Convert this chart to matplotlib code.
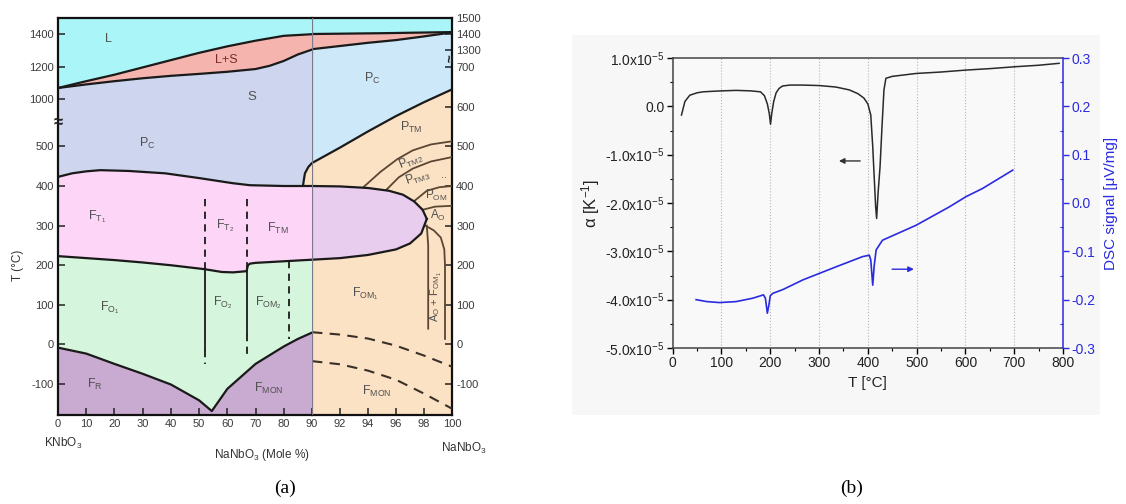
import numpy as np
import matplotlib
matplotlib.use('Agg')
import matplotlib.pyplot as plt
from matplotlib.patches import Rectangle

plt.rcParams['font.family'] = ['Liberation Sans', 'DejaVu Sans']
plt.rcParams['mathtext.fontset'] = 'custom'
plt.rcParams['mathtext.rm'] = 'Liberation Sans'
plt.rcParams['mathtext.it'] = 'Liberation Sans:italic'
plt.rcParams['mathtext.bf'] = 'Liberation Sans:bold'
plt.rcParams['mathtext.default'] = 'regular'

# ------------------------- data: panel (a) phase diagram -------------------------
liq_m = [0, 10, 20, 30, 40, 50, 60, 70, 80, 90]
liq_T = [1068, 1110, 1150, 1195, 1240, 1285, 1325, 1360, 1390, 1400]
sol_m = [0, 10, 20, 30, 40, 50, 60, 70, 75, 80, 85, 90]
sol_T = [1068, 1090, 1110, 1128, 1143, 1155, 1168, 1185, 1205, 1235, 1275, 1305]
liq_r_m = [90, 95, 100]
liq_r_T = [1400, 1405, 1412]
sol_r_m = [90, 92, 94, 96, 98, 100]
sol_r_T = [1305, 1325, 1345, 1362, 1385, 1410]
curie_m = [0, 5, 10, 15, 25, 38, 50, 62, 68, 80, 90]
curie_T = [423, 432, 437, 440, 438, 432, 420, 407, 402, 400, 400]
ptm_l_m = [86.8, 87.1, 87.5, 88.7, 90]
ptm_l_T = [400, 415, 432, 448, 458]
ptm_r_m = [90, 92, 94, 96, 98, 100]
ptm_r_T = [458, 497, 538, 577, 612, 644]
ftlow_m = [0, 10, 20, 30, 40, 52, 58, 62, 66.8, 67.3, 68, 70, 80, 90]
ftlow_T = [223, 218, 213, 207, 200, 190, 183, 182, 185, 200, 204, 206, 210, 214]
fr_m = [0, 10, 20, 30, 40, 50, 54.5, 60, 70, 80, 85, 90]
fr_T = [-8, -23, -49, -74, -101, -141, -168, -112, -49, -5, 14, 30]
ell_up_m = [90, 92, 94, 95.5, 96.5, 97.3, 97.9, 98.2]
ell_up_T = [400, 399, 395, 388, 378, 361, 340, 317]
ell_lo_m = [90, 92, 94, 96, 97, 97.8, 98.2]
ell_lo_T = [214, 218, 226, 240, 255, 280, 317]
arc1_m = [93.7, 94.9, 96.1, 97.2, 98.5, 100]
arc1_T = [398, 436, 468, 490, 505, 513]
arc2_m = [95.3, 96.2, 97.2, 98.5, 100]
arc2_T = [390, 422, 444, 462, 473]
arc3_m = [97.3, 98.2, 99.1, 100]
arc3_T = [362, 388, 397, 400]
arc4_m = [97.9, 98.8, 100]
arc4_T = [340, 348, 350]
lineA_m = [98.2, 98.3, 98.3]
lineA_T = [300, 250, 40]
lineB_m = [98.1, 98.7, 99.2, 99.45, 99.5, 99.5]
lineB_T = [300, 288, 270, 240, 200, 14]
dash1_m = [90, 92, 94, 96, 98, 100]
dash1_T = [31, 25, 15, -3, -28, -56]
dash2_m = [90, 92, 94, 96, 98, 100]
dash2_T = [-42, -50, -66, -89, -124, -162]
vl_m = [52, 67, 82]
vl_dash_top = [(368, 190), (368, 203), (210, 14)]
vl_solid = [(190, -15), (200, 27), None]
vl_dash_bot = [(-15, -49), (27, -36), None]

left_yticks = [-100, 0, 100, 200, 300, 400, 500, 1000, 1200, 1400]
right_yticks = [-100, 0, 100, 200, 300, 400, 500, 600, 700, 1300, 1400, 1500]
left_xticks = [0, 10, 20, 30, 40, 50, 60, 70, 80, 90]
right_xticks = [92, 94, 96, 98, 100]

# ------------------------- data: panel (b) -------------------------
alpha_T = [18, 25, 35, 50, 62, 80, 100, 130, 160, 180, 188, 194, 198, 200.5, 203, 207, 212,
           218, 225, 240, 266, 300, 334, 362, 380, 392, 400, 406, 410, 413, 416, 418, 421,
           425, 429, 433, 437, 450, 499, 550, 601, 650, 703, 750, 792]
alpha_v = [-0.18, 0.10, 0.23, 0.28, 0.30, 0.31, 0.32, 0.33, 0.32, 0.30, 0.22, 0.05, -0.15,
           -0.37, -0.15, 0.10, 0.28, 0.37, 0.42, 0.44, 0.44, 0.43, 0.40, 0.34, 0.26, 0.17,
           0.05, -0.18, -0.83, -1.46, -2.08, -2.32, -1.79, -1.25, -0.42, 0.34, 0.58, 0.62,
           0.68, 0.71, 0.75, 0.78, 0.82, 0.85, 0.89]   # x 1e-5 K^-1
dsc_T = [48, 70, 96, 130, 164, 180, 186, 190, 194, 197, 200, 205, 226, 267, 335, 389, 403,
         406, 410, 413, 417, 430, 499, 567, 601, 635, 697]
dsc_v = [-0.200, -0.204, -0.206, -0.204, -0.197, -0.192, -0.190, -0.197, -0.228, -0.212,
         -0.192, -0.187, -0.179, -0.159, -0.132, -0.111, -0.108, -0.118, -0.170, -0.130,
         -0.097, -0.077, -0.046, -0.008, 0.013, 0.030, 0.068]
b_xticks = [0, 100, 200, 300, 400, 500, 600, 700, 800]
b_left_ticks = [-5, -4, -3, -2, -1, 0, 1]
b_right_ticks = [-0.3, -0.2, -0.1, 0.0, 0.1, 0.2, 0.3]

# ------------------------- figure -------------------------
W, H = 1126, 504
fig = plt.figure(figsize=(W / 100, H / 100), dpi=100)


def fx(px):
    return px / W


def fy(py):
    return 1 - py / H


def piecewise(Tp, up):
    Tp = np.asarray(Tp, float)
    up = np.asarray(up, float)
    return (lambda T: np.interp(T, Tp, up), lambda u: np.interp(u, up, Tp))


left_scale = piecewise([-1178, -178, 400, 500, 1000, 1500, 2500],
                       [-396, 0, 229, 268.6, 316, 397, 559])
right_scale = piecewise([-1178, -178, 500, 600, 700, 1300, 1500, 2500],
                        [-396, 0, 268.6, 308, 348, 365, 397, 557])

C_L = '#aaf5f8'
C_LS = '#f5b5ae'
C_S = '#cdd6ee'
C_PC = '#cde8f8'
C_FT = '#fcd5f7'
C_ELL = '#e9cdee'
C_FO = '#d5f5dc'
C_FR = '#c9aad0'
C_OR = '#fce2c4'
LC = '#1a1a1a'
BR = '#5a4632'
TXT = '#505050'

# light background panel behind (b)
fig.patches.append(Rectangle((fx(572), fy(415)), fx(1100 - 572), (415 - 35) / H,
                             transform=fig.transFigure, facecolor='#f7f7f7',
                             edgecolor='none', zorder=-10))

ymin, ymax = -178, 1500
bot, hgt = (H - 415) / H, 397 / H
axL = fig.add_axes([fx(58), bot, fx(254), hgt])
axR = fig.add_axes([fx(312), bot, fx(140), hgt])
axL.set_yscale('function', functions=left_scale)
axR.set_yscale('function', functions=right_scale)
axL.set_xlim(0, 90)
axR.set_xlim(90, 100)
for a in (axL, axR):
    a.set_ylim(ymin, ymax)


def poly(ax, xs, ys, color, z=1):
    ax.fill(xs, ys, color=color, lw=0, zorder=z)


# left part fills
poly(axL, list(liq_m) + [90, 0], list(liq_T) + [ymax, ymax], C_L)
poly(axL, list(liq_m) + sol_m[::-1], list(liq_T) + sol_T[::-1], C_LS)
poly(axL, list(sol_m) + curie_m[::-1], list(sol_T) + curie_T[::-1], C_S)
poly(axL, list(curie_m) + ftlow_m[::-1], list(curie_T) + ftlow_T[::-1], C_FT)
poly(axL, list(ftlow_m) + fr_m[::-1], list(ftlow_T) + fr_T[::-1], C_FO)
poly(axL, list(fr_m) + [90, 0], list(fr_T) + [ymin, ymin], C_FR)
poly(axL, list(ptm_l_m) + [90], list(ptm_l_T) + [400], C_OR, 2)

for xs, ys in [(liq_m, liq_T), (sol_m, sol_T), (curie_m, curie_T), (ptm_l_m, ptm_l_T),
               (ftlow_m, ftlow_T), (fr_m, fr_T)]:
    axL.plot(xs, ys, color=LC, lw=1.6, zorder=4, solid_capstyle='round')

for m, dt, so, db in zip(vl_m, vl_dash_top, vl_solid, vl_dash_bot):
    axL.plot([m, m], dt, color=LC, lw=1.3, ls=(0, (4, 3)), zorder=4)
    if so is not None:
        axL.plot([m, m], so, color=LC, lw=1.3, zorder=4)
    if db is not None:
        axL.plot([m, m], db, color=LC, lw=1.3, ls=(0, (4, 3)), zorder=4)

# right part fills
poly(axR, list(liq_r_m) + [100, 90], list(liq_r_T) + [ymax, ymax], C_L)
poly(axR, list(liq_r_m) + sol_r_m[::-1], list(liq_r_T) + sol_r_T[::-1], C_LS)
poly(axR, list(sol_r_m) + ptm_r_m[::-1], list(sol_r_T) + ptm_r_T[::-1], C_PC)
poly(axR, list(ptm_r_m) + [100, 90], list(ptm_r_T) + [ymin, ymin], C_OR)
poly(axR, list(ell_up_m) + ell_lo_m[::-1], list(ell_up_T) + ell_lo_T[::-1], C_ELL, 2)

for xs, ys in [(liq_r_m, liq_r_T), (sol_r_m, sol_r_T), (ptm_r_m, ptm_r_T),
               (ell_up_m, ell_up_T), (ell_lo_m, ell_lo_T)]:
    axR.plot(xs, ys, color=LC, lw=1.6, zorder=4)
for xs, ys in [(arc1_m, arc1_T), (arc2_m, arc2_T), (arc3_m, arc3_T), (arc4_m, arc4_T),
               (lineA_m, lineA_T), (lineB_m, lineB_T)]:
    axR.plot(xs, ys, color=BR, lw=1.3, zorder=3)
for xs, ys in [(dash1_m, dash1_T), (dash2_m, dash2_T)]:
    axR.plot(xs, ys, color='#3a302a', lw=1.5, ls=(0, (5, 3.5)), zorder=3)
axR.axvline(90, color='#7a7a8a', lw=0.9, zorder=5)

# spines and ticks
for a in (axL, axR):
    for s in a.spines.values():
        s.set_linewidth(1.6)
        s.set_color('#111111')
    a.tick_params(direction='in', length=5, width=1.1, labelsize=8, labelcolor='#3a3a3a',
                  color='#222222', pad=3)
axL.spines['right'].set_visible(False)
axR.spines['left'].set_visible(False)
axL.set_yticks(left_yticks)
axL.set_yticklabels([str(t) for t in left_yticks])
axL.set_xticks(left_xticks)
axL.set_xticklabels([str(t) for t in left_xticks])
axR.set_xticks(right_xticks)
axR.set_xticklabels([str(t) for t in right_xticks])
axR.yaxis.tick_right()
axR.set_yticks(right_yticks)
axR.set_yticklabels([str(t) for t in right_yticks])
axR.tick_params(axis='y', which='both', left=False, right=True)
axL.minorticks_off()
axR.minorticks_off()

# break marks
axL.text(0, 750, '≈', ha='center', va='center', fontsize=12, fontweight='bold', color='#222',
         zorder=6, clip_on=False)
axR.text(100, 1000, '≈', ha='center', va='center', fontsize=10, fontweight='bold', color='#222',
         rotation=90, zorder=6, clip_on=False)

# region labels
lab = dict(ha='center', va='center', color=TXT, zorder=6)
axL.text(17.7, 1370, 'L', fontsize=9, **lab)
axL.text(59.8, 1240, 'L+S', fontsize=9, ha='center', va='center', color='#7a2a2a', zorder=6)
axL.text(68.8, 1010, 'S', fontsize=9.5, **lab)
axL.text(31.5, 530, 'P$_C$', fontsize=9, **lab)
axL.text(13.7, 322, 'F$_{T_1}$', fontsize=9, **lab)
axL.text(59.2, 300, 'F$_{T_2}$', fontsize=9, **lab)
axL.text(78, 292, 'F$_{TM}$', fontsize=9, **lab)
axL.text(18.4, 93, 'F$_{O_1}$', fontsize=9, **lab)
axL.text(58.5, 105, 'F$_{O_2}$', fontsize=9, **lab)
axL.text(74.5, 105, 'F$_{OM_2}$', fontsize=9, **lab)
axL.text(13, -100, 'F$_R$', fontsize=9, **lab)
axL.text(74.5, -112, 'F$_{MON}$', fontsize=9, **lab)
axR.text(94.3, 672, 'P$_C$', fontsize=9, **lab)
axR.text(97.1, 549, 'P$_{TM}$', fontsize=9, **lab)
axR.text(97.1, 462, 'P$_{TM2}$', fontsize=8.5, rotation=22, **lab)
axR.text(97.6, 420, 'P$_{TM3}$', fontsize=8.5, rotation=18, **lab)
axR.text(99.4, 428, '..', fontsize=8, **lab)
axR.text(98.9, 377, 'P$_{OM}$', fontsize=8.5, **lab)
axR.text(99.0, 325, 'A$_O$', fontsize=8.5, **lab)
axR.text(93.8, 128, 'F$_{OM_1}$', fontsize=9, **lab)
axR.text(98.9, 120, 'A$_O$ + F$_{OM_1}$', fontsize=8, rotation=90, **lab)
axR.text(94.6, -118, 'F$_{MON}$', fontsize=9, **lab)

fig.text(fx(18), fy(265), 'T (°C)', rotation=90, ha='center', va='center', fontsize=8.5,
         color='#333')
fig.text(fx(63), fy(443), 'KNbO$_3$', ha='center', va='center', fontsize=8.5, color='#333')
fig.text(fx(262), fy(455), 'NaNbO$_3$ (Mole %)', ha='center', va='center', fontsize=8.5,
         color='#333')
fig.text(fx(464), fy(448), 'NaNbO$_3$', ha='center', va='center', fontsize=8.5, color='#333')
fig.text(fx(285), fy(488), '(a)', ha='center', va='center', fontsize=14,
         family=['Liberation Serif', 'DejaVu Serif'])
fig.text(fx(852), fy(488), '(b)', ha='center', va='center', fontsize=14,
         family=['Liberation Serif', 'DejaVu Serif'])

# ------------------------- panel (b) -------------------------
BLUE = '#2a2ae0'
axb = fig.add_axes([fx(672.7), fy(348), fx(390.3), 290 / H])
axb.set_facecolor('#f9f9f9')
axb.set_xlim(0, 800)
axb.set_ylim(-5, 1)
axb.plot(alpha_T, alpha_v, color='#2a2a2a', lw=1.1, zorder=3)
axb.set_xticks(b_xticks)
axb.set_xticklabels([str(t) for t in b_xticks])
axb.set_xticks(np.arange(50, 800, 100), minor=True)
axb.set_yticks(b_left_ticks)
axb.set_yticklabels([('%.1fx10$^{-5}$' % t if t != 0 else '0.0') for t in b_left_ticks])
axb.set_yticks(np.arange(-4.5, 1, 1), minor=True)
for xg in b_xticks[1:-1]:
    axb.axvline(xg, color='#b5b5b5', lw=0.8, ls=':', zorder=1)
axb.tick_params(which='major', direction='out', length=4, width=1, labelsize=10,
                labelcolor='#222', pad=2)
axb.tick_params(which='minor', direction='out', length=2.5, width=0.8)
for s in ['left', 'bottom', 'top']:
    axb.spines[s].set_linewidth(1.1)
    axb.spines[s].set_color('#444')
axb.spines['right'].set_visible(False)
axb.set_xlabel('T [°C]', fontsize=11, color='#222', labelpad=4)
axb.set_ylabel('α [K$^{-1}$]', fontsize=12, color='#222', labelpad=2)
axb.annotate('', xy=(335, -1.13), xytext=(390, -1.13),
             arrowprops=dict(arrowstyle='-|>', color='#333', lw=1, mutation_scale=8))

axb2 = axb.twinx()
axb2.set_ylim(-0.3, 0.3)
axb2.plot(dsc_T, dsc_v, color=BLUE, lw=1.2, zorder=3)
axb2.set_yticks(b_right_ticks)
axb2.set_yticklabels(['%.1f' % t for t in b_right_ticks])
axb2.set_yticks(np.arange(-0.25, 0.3, 0.1), minor=True)
axb2.tick_params(which='major', direction='out', length=4, width=1, labelsize=10,
                 labelcolor=BLUE, color=BLUE, pad=2)
axb2.tick_params(which='minor', direction='in', length=2.5, width=0.8, color=BLUE)
axb2.spines['right'].set_color(BLUE)
axb2.spines['right'].set_linewidth(1.1)
for s in ['left', 'bottom', 'top']:
    axb2.spines[s].set_visible(False)
axb2.set_ylabel('DSC signal [μV/mg]', fontsize=11, color=BLUE, labelpad=6)
axb2.annotate('', xy=(500, -0.137), xytext=(444, -0.137),
              arrowprops=dict(arrowstyle='-|>', color=BLUE, lw=1, mutation_scale=8))

fig.savefig('out.png', dpi=100)
